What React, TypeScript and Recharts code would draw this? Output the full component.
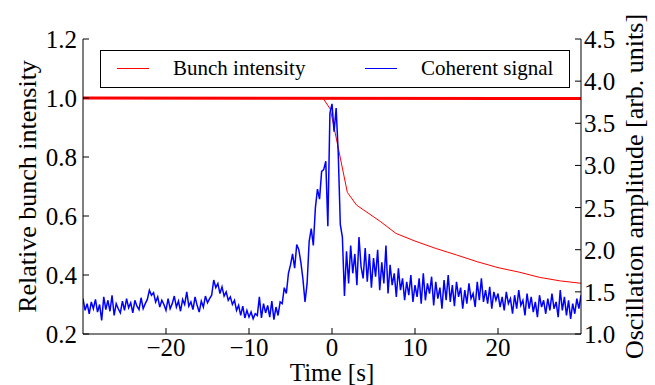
import {
  ComposedChart,
  Line,
  XAxis,
  YAxis,
  Legend,
  Label,
} from "recharts";

const FONT = '"Liberation Serif", "Times New Roman", serif';

// time grid of the coherent signal, in seconds
const signalStart = -30;
const signalStep = 0.25;

// coherent signal [arb. units], 4 samples per second from -30 s to 30 s
const coherentSignal = [
  1.42, 1.28, 1.36, 1.24,
  1.38, 1.3, 1.41, 1.26,
  1.35, 1.16, 1.44, 1.29,
  1.4, 1.27, 1.46, 1.22,
  1.36, 1.3, 1.25, 1.39,
  1.28, 1.42, 1.31, 1.37,
  1.25, 1.4, 1.33, 1.29,
  1.43, 1.3, 1.36, 1.41,
  1.52, 1.46, 1.49, 1.38,
  1.44, 1.32, 1.4, 1.35,
  1.28, 1.42, 1.3, 1.36,
  1.45, 1.32, 1.39, 1.27,
  1.41, 1.35, 1.5, 1.33,
  1.38, 1.29, 1.44, 1.34,
  1.26, 1.39, 1.32, 1.45,
  1.37, 1.42, 1.46, 1.64,
  1.55, 1.6, 1.48, 1.56,
  1.45, 1.5, 1.4, 1.44,
  1.35, 1.4, 1.28, 1.34,
  1.22, 1.33, 1.19, 1.28,
  1.2, 1.26, 1.18, 1.24,
  1.22, 1.44, 1.19, 1.36,
  1.25, 1.34, 1.2, 1.39,
  1.17, 1.32, 1.22, 1.38,
  1.36, 1.55, 1.48, 1.72,
  1.82, 1.95, 1.78, 2.06,
  2.0, 1.85, 1.65, 1.38,
  1.6, 2.1, 2.25, 2.05,
  2.5, 2.72, 2.6, 2.93,
  2.95, 3.05, 2.28, 3.62,
  3.73, 3.4, 3.68, 3.15,
  2.3, 2.15, 1.45, 1.98,
  1.6, 2.05, 1.72, 1.95,
  1.58, 2.15, 1.8, 1.66,
  2.02, 1.62, 1.95, 1.55,
  1.9, 1.68, 2.0, 1.52,
  1.85, 1.6, 2.05, 1.48,
  1.82, 1.58, 1.72, 1.44,
  1.78, 1.52, 1.66, 1.4,
  1.62, 1.46, 1.7, 1.38,
  1.58, 1.44, 1.66, 1.36,
  1.72, 1.4, 1.6, 1.48,
  1.68, 1.34, 1.62, 1.42,
  1.55, 1.3, 1.64, 1.4,
  1.7, 1.38, 1.58, 1.33,
  1.62, 1.44, 1.55, 1.3,
  1.52, 1.36, 1.6, 1.42,
  1.48, 1.32, 1.62, 1.4,
  1.66, 1.38, 1.52, 1.36,
  1.56, 1.3, 1.5, 1.4,
  1.48, 1.32, 1.44, 1.28,
  1.5, 1.36, 1.42, 1.24,
  1.46, 1.3, 1.52, 1.34,
  1.4, 1.22, 1.48, 1.3,
  1.44, 1.26, 1.38, 1.2,
  1.46, 1.32, 1.4, 1.24,
  1.42, 1.28, 1.48, 1.3,
  1.38, 1.2, 1.52, 1.28,
  1.44, 1.22, 1.4, 1.18,
  1.36, 1.24, 1.42, 1.3,
  1.46,
];

// bunch intensity of the unstable bunch (time, relative intensity)
const intensityTimes = [-30, -1.1, -0.2, 1.85, 2.95, 5.8, 7.7, 10, 12.5, 15, 17.5, 20, 22.5, 25, 27.5, 30];
const intensityValues = [1.0, 1.0, 0.962, 0.68, 0.637, 0.582, 0.541, 0.515, 0.49, 0.468, 0.445, 0.425, 0.41, 0.392, 0.38, 0.372];

// the other bunches stay at full intensity
const otherTimes = [-30, 30];
const otherValues = [1.0, 0.998];

const xTicks = [-20, -10, 0, 10, 20];
const leftTicks = [0.2, 0.4, 0.6, 0.8, 1.0, 1.2];
const rightTicks = [1.0, 1.5, 2.0, 2.5, 3.0, 3.5, 4.0, 4.5];

const legendItems = [
  { name: "Bunch intensity", color: "#ff0000" },
  { name: "Coherent signal", color: "#0000ff" },
];

const signalData = coherentSignal.map((v, i) => ({
  t: signalStart + i * signalStep,
  signal: v,
}));
const intensityData = intensityTimes.map((t, i) => ({ t, intensity: intensityValues[i] }));
const otherData = otherTimes.map((t, i) => ({ t, intensity: otherValues[i] }));

const fmt = (v: number) => (v < 0 ? "\u2212" + Math.abs(v) : String(v));

const TICK_FONT = 25;

const BottomTick = (p: any) => {
  const axisY = p.y - 8;
  return (
    <g>
      <line x1={p.x} x2={p.x} y1={axisY} y2={axisY - 6} stroke="#000" />
      <text x={p.x} y={axisY + 22} textAnchor="middle" fontFamily={FONT} fontSize={TICK_FONT} fill="#000">
        {fmt(p.payload.value)}
      </text>
    </g>
  );
};

const TopTick = (p: any) => (
  <line x1={p.x} x2={p.x} y1={p.y} y2={p.y + 6} stroke="#000" />
);

const LeftTick = (p: any) => {
  const axisX = p.x + 5;
  return (
    <g>
      <line x1={axisX} x2={axisX + 6} y1={p.y} y2={p.y} stroke="#000" />
      <text x={axisX - 6} y={p.y + 9} textAnchor="end" fontFamily={FONT} fontSize={TICK_FONT} fill="#000">
        {p.payload.value.toFixed(1)}
      </text>
    </g>
  );
};

const RightTick = (p: any) => {
  const axisX = p.x - 5;
  return (
    <g>
      <line x1={axisX} x2={axisX - 6} y1={p.y} y2={p.y} stroke="#000" />
      <text x={axisX + 3} y={p.y + 9} textAnchor="start" fontFamily={FONT} fontSize={TICK_FONT} fill="#000">
        {p.payload.value.toFixed(1)}
      </text>
    </g>
  );
};

const LegendBox = () => (
  <div
    style={{
      width: 470,
      height: 38,
      border: "1px solid #000",
      boxSizing: "border-box",
      background: "#fff",
      position: "relative",
      fontFamily: FONT,
      fontSize: 21,
      color: "#000",
    }}
  >
    {legendItems.map((item, i) => (
      <div key={item.name}>
        <div
          style={{
            position: "absolute",
            left: 16 + i * 248,
            top: 17,
            width: 32,
            height: 1,
            background: item.color,
          }}
        />
        <div style={{ position: "absolute", left: 72 + i * 248, top: 5, whiteSpace: "nowrap" }}>
          {item.name}
        </div>
      </div>
    ))}
  </div>
);

const App = () => {
  return (
    <div style={{ position: "absolute", left: 0, top: 0, background: "#fff" }}>
      <ComposedChart
        width={655}
        height={385}
        data={signalData}
        margin={{ top: 39, right: 0, bottom: 0, left: 0 }}
      >
        <XAxis
          dataKey="t"
          type="number"
          domain={[-30, 30]}
          ticks={xTicks}
          allowDataOverflow
          height={51}
          tickSize={0}
          tickMargin={8}
          tick={BottomTick}
          axisLine={{ stroke: "#000" }}
          tickLine={false}
        >
          <Label
            content={(p: any) => (
              <text
                x={p.viewBox.x + p.viewBox.width / 2}
                y={p.viewBox.y + 47}
                textAnchor="middle"
                fontFamily={FONT}
                fontSize={25}
                fill="#000"
              >
                Time [s]
              </text>
            )}
          />
        </XAxis>
        <XAxis
          xAxisId="top"
          orientation="top"
          dataKey="t"
          type="number"
          domain={[-30, 30]}
          ticks={xTicks}
          allowDataOverflow
          height={0}
          tickSize={0}
          tickMargin={0}
          tick={TopTick}
          axisLine={{ stroke: "#000" }}
          tickLine={false}
        />
        <YAxis
          yAxisId="left"
          domain={[0.2, 1.2]}
          ticks={leftTicks}
          width={83}
          tickSize={0}
          tickMargin={5}
          tick={LeftTick}
          axisLine={{ stroke: "#000" }}
          tickLine={false}
        >
          <Label
            content={(p: any) => {
              const cx = p.viewBox.x + 27;
              const cy = p.viewBox.y + p.viewBox.height / 2;
              return (
                <text
                  x={cx}
                  y={cy}
                  transform={`rotate(-90 ${cx} ${cy})`}
                  textAnchor="middle"
                  dominantBaseline="central"
                  fontFamily={FONT}
                  fontSize={26}
                  fill="#000"
                >
                  Relative bunch intensity
                </text>
              );
            }}
          />
        </YAxis>
        <YAxis
          yAxisId="right"
          orientation="right"
          domain={[1.0, 4.5]}
          ticks={rightTicks}
          width={74}
          tickSize={0}
          tickMargin={5}
          tick={RightTick}
          axisLine={{ stroke: "#000" }}
          tickLine={false}
        >
          <Label
            content={(p: any) => {
              const cx = p.viewBox.x + 53;
              const cy = p.viewBox.y + p.viewBox.height / 2;
              return (
                <text
                  x={cx}
                  y={cy}
                  transform={`rotate(-90 ${cx} ${cy})`}
                  textAnchor="middle"
                  dominantBaseline="central"
                  fontFamily={FONT}
                  fontSize={26}
                  fill="#000"
                >
                  Oscillation amplitude [arb. units]
                </text>
              );
            }}
          />
        </YAxis>
        <Line
          yAxisId="left"
          data={otherData}
          dataKey="intensity"
          stroke="#ff0000"
          strokeWidth={3}
          dot={false}
          legendType="none"
          isAnimationActive={false}
        />
        <Line
          yAxisId="left"
          data={intensityData}
          dataKey="intensity"
          name="Bunch intensity"
          stroke="#ff0000"
          strokeWidth={1}
          dot={false}
          isAnimationActive={false}
        />
        <Line
          yAxisId="right"
          dataKey="signal"
          name="Coherent signal"
          stroke="#0000ff"
          strokeWidth={1.5}
          dot={false}
          isAnimationActive={false}
        />
        <Legend
          layout="vertical"
          align="center"
          verticalAlign="middle"
          content={LegendBox}
          wrapperStyle={{ left: 100, top: 50, width: 470, height: 38 }}
        />
      </ComposedChart>
    </div>
  );
};

export default App;
